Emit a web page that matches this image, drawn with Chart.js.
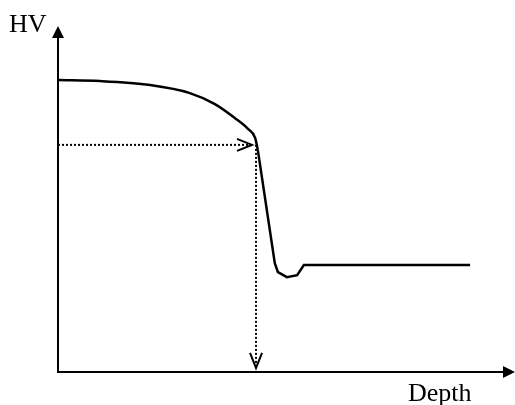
<!DOCTYPE html>
<html>
<head>
<meta charset="utf-8">
<script src="https://cdn.jsdelivr.net/npm/chart.js@4/dist/chart.umd.min.js"></script>
<style>
  html, body { margin: 0; padding: 0; background: #fff; }
  #wrap { width: 515px; height: 405px; }
</style>
</head>
<body>
<div id="wrap"><canvas id="chart"></canvas></div>
<script>
// Curva de dureza (parte suave)
const curveDepth = [0, 9.4, 20.6, 29.5, 35.1, 39.6, 42.5, 44.1, 44.7];
const curveHV = [87.4, 87.1, 85.9, 83.5, 80.2, 76.0, 72.8, 70.1, 66.5];

// Parte baja (tramo recto con el valle)
const dipDepth = [44.7, 48.5, 49.2, 51.2, 53.5, 55.0, 92.2];
const dipHV = [66.5, 32.6, 29.9, 28.4, 29.0, 32.0, 32.0];

// Punto marcado con flechas punteadas
const markDepth = 44.3;
const markHV = 68.0;
const arrowEndDepth = 43.4;
const arrowEndHV = 1.2;

const axisLabels = { x: "Depth", y: "HV" };

const toPoints = (xs, ys) => xs.map((x, i) => ({ x: x, y: ys[i] }));

// Dibuja flechas de los ejes, puntas abiertas y etiquetas
const arrowsPlugin = {
  id: "arrows",
  afterDraw(chart) {
    const ctx = chart.ctx;
    const area = chart.chartArea;
    const xs = chart.scales.x;
    const ys = chart.scales.y;
    ctx.save();

    // ejes extendidos + puntas rellenas
    ctx.strokeStyle = "#000";
    ctx.fillStyle = "#000";
    ctx.lineWidth = 2;
    ctx.beginPath();
    ctx.moveTo(area.right, area.bottom);
    ctx.lineTo(area.right + 4, area.bottom);
    ctx.stroke();

    ctx.beginPath();
    ctx.moveTo(area.left - 6, area.top);
    ctx.lineTo(area.left + 6, area.top);
    ctx.lineTo(area.left, area.top - 12);
    ctx.closePath();
    ctx.fill();

    ctx.beginPath();
    ctx.moveTo(area.right - 2, area.bottom - 6);
    ctx.lineTo(area.right - 2, area.bottom + 6);
    ctx.lineTo(area.right + 10, area.bottom);
    ctx.closePath();
    ctx.fill();

    // puntas abiertas de las flechas punteadas
    ctx.lineWidth = 2;
    const hx = xs.getPixelForValue(arrowEndDepth);
    const hy = ys.getPixelForValue(markHV);
    ctx.beginPath();
    ctx.moveTo(hx - 15, hy - 6);
    ctx.lineTo(hx, hy);
    ctx.lineTo(hx - 15, hy + 6);
    ctx.stroke();

    const vx = xs.getPixelForValue(markDepth);
    const vy = ys.getPixelForValue(arrowEndHV);
    ctx.beginPath();
    ctx.moveTo(vx - 6, vy - 15);
    ctx.lineTo(vx, vy);
    ctx.lineTo(vx + 6, vy - 15);
    ctx.stroke();

    // etiquetas
    ctx.font = '26px "Liberation Serif", "DejaVu Serif", serif';
    ctx.textBaseline = "alphabetic";
    ctx.textAlign = "left";
    ctx.fillText(axisLabels.y, 9, 32);
    ctx.fillText(axisLabels.x, 408, 401);
    ctx.restore();
  }
};

new Chart(document.getElementById("chart"), {
  type: "line",
  data: {
    datasets: [
      {
        data: toPoints(curveDepth, curveHV),
        borderColor: "#000",
        borderWidth: 2.5,
        pointRadius: 0,
        cubicInterpolationMode: "monotone",
        fill: false
      },
      {
        data: toPoints(dipDepth, dipHV),
        borderColor: "#000",
        borderWidth: 2.5,
        pointRadius: 0,
        tension: 0,
        fill: false
      },
      {
        data: [{ x: 0, y: markHV }, { x: arrowEndDepth, y: markHV }],
        borderColor: "#000",
        borderWidth: 2,
        borderDash: [2, 2],
        pointRadius: 0,
        fill: false
      },
      {
        data: [{ x: markDepth, y: markHV }, { x: markDepth, y: arrowEndHV }],
        borderColor: "#000",
        borderWidth: 2,
        borderDash: [2, 2],
        pointRadius: 0,
        fill: false
      }
    ]
  },
  options: {
    responsive: true,
    maintainAspectRatio: false,
    animation: false,
    layout: { padding: { left: 58, top: 38, right: 10, bottom: 33 } },
    plugins: { legend: { display: false }, tooltip: { enabled: false } },
    scales: {
      x: {
        type: "linear",
        min: 0,
        max: 100,
        ticks: { display: false },
        grid: { display: false, drawTicks: false },
        border: { display: true, color: "#000", width: 2 }
      },
      y: {
        type: "linear",
        min: 0,
        max: 100,
        ticks: { display: false },
        grid: { display: false, drawTicks: false },
        border: { display: true, color: "#000", width: 2 }
      }
    }
  },
  plugins: [arrowsPlugin]
});
</script>
</body>
</html>
